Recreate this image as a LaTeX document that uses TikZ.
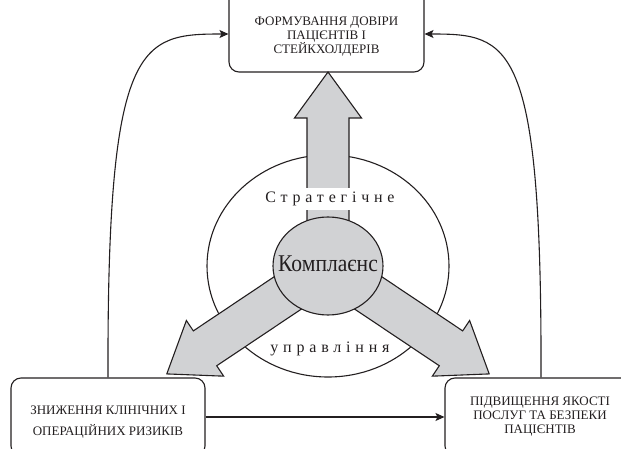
\documentclass[tikz,border=0pt]{standalone}
\usepackage{fontspec}
\setmainfont{Liberation Serif}
\newfontfamily\condfont[FakeStretch=0.9]{Liberation Serif}
\newfontfamily\spacedfont[LetterSpace=30]{Liberation Serif}
\usetikzlibrary{shapes.geometric,arrows.meta}
\definecolor{ink}{RGB}{35,31,32}
\definecolor{arrowgray}{RGB}{209,210,212}
\begin{document}
\begin{tikzpicture}[x=1pt,y=-1pt,
  box/.style={draw=ink,line width=1.1pt,rounded corners=10pt,inner sep=0pt},
  boxtext/.style={text=ink,align=center,font=\fontsize{13}{14}\selectfont},
  link/.style={draw=ink,line width=1.1pt,-{Stealth[length=9pt,width=8pt,inset=2pt]}},
  bigarrow/.style={fill=arrowgray,draw=ink,line width=1.1pt,line join=miter},
  ringtext/.style={text=ink,anchor=base,font=\spacedfont\fontsize{16}{16}\selectfont},
]
\useasboundingbox (0,0) rectangle (621,449);
\clip (0,0) rectangle (621,449);

% boxes
\node[box,minimum width=195pt,minimum height=92pt] (trust) at (326.5,26) {};
\node[box,minimum width=194pt,minimum height=78pt] (risk) at (108,417) {};
\node[box,minimum width=192pt,minimum height=78pt] (quality) at (541,417) {};

\node[boxtext] (trusttext) at (326.5,36.5) {ФОРМУВАННЯ ДОВІРИ\\ПАЦІЄНТІВ І\\СТЕЙКХОЛДЕРІВ};
\node[boxtext,font=\fontsize{13}{21.5}\selectfont] (risktext) at (108,422) {ЗНИЖЕННЯ КЛІНІЧНИХ І\\ОПЕРАЦІЙНИХ РИЗИКІВ};
\node[boxtext] (qualitytext) at (540,416.5) {ПІДВИЩЕННЯ ЯКОСТІ\\ПОСЛУГ ТА БЕЗПЕКИ\\ПАЦІЄНТІВ};

% connectors
\draw[link] (risk.north) .. controls (107,40) and (140,34) .. ([yshift=-8pt]trust.west);
\draw[link] (quality.north) .. controls (542,40) and (510,34) .. ([yshift=-8pt]trust.east);
\draw[link] (risk.east) -- (quality.west);

% ring
\node[ellipse,draw=ink,line width=1.1pt,minimum width=242pt,minimum height=222pt,inner sep=0pt] (ring) at (328,266) {};

% big arrows
\foreach \ang in {0,123.8,-123.8}{
  \begin{scope}[shift={(328,266)},rotate=\ang]
    \path[bigarrow] (-21,-20) -- (-21,-148) -- (-33.5,-148) -- (0,-194) -- (33.5,-148) -- (21,-148) -- (21,-20) -- cycle;
  \end{scope}
}

% core
\node[ellipse,draw=ink,fill=arrowgray,line width=1.1pt,minimum width=110pt,minimum height=98pt,inner sep=0pt] (core) at (328,266) {};
\node[text=ink,font=\condfont\fontsize{24}{24}\selectfont,inner sep=0pt] (coretext) at (328,263.5) {Комплаєнс};

\node[ringtext,fill=white,inner sep=4pt] (strat) at (330,203) {Стратегічне};
\node[ringtext,inner sep=0pt] (manage) at (330,352) {управління};
\end{tikzpicture}
\end{document}
